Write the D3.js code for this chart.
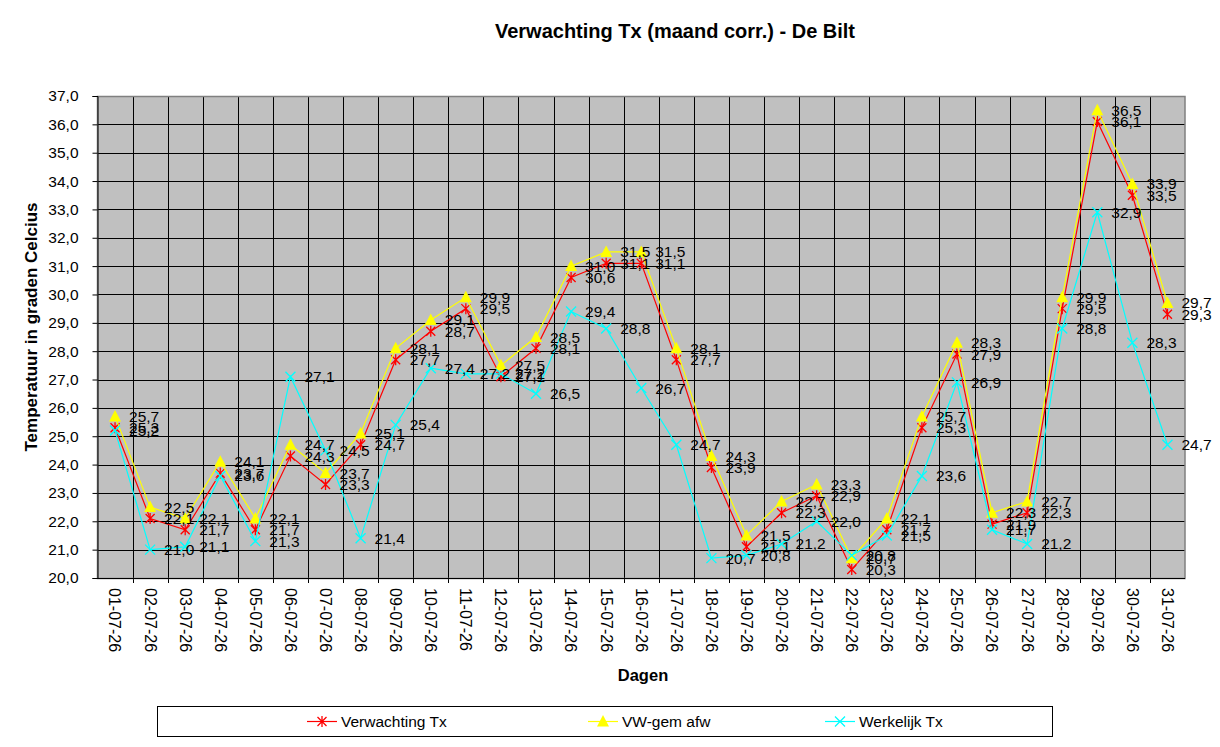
<!DOCTYPE html>
<html>
<head>
<meta charset="utf-8">
<script src="https://cdn.jsdelivr.net/npm/d3@7"></script>
<style>
  html, body { margin: 0; padding: 0; background: #fff; }
  svg { display: block; font-family: Arial, "Liberation Sans", sans-serif; }
</style>
</head>
<body>
<svg id="chart" width="1220" height="747"></svg>
<script>
const categories = ["01-07-26","02-07-26","03-07-26","04-07-26","05-07-26","06-07-26","07-07-26","08-07-26","09-07-26","10-07-26","11-07-26","12-07-26","13-07-26","14-07-26","15-07-26","16-07-26","17-07-26","18-07-26","19-07-26","20-07-26","21-07-26","22-07-26","23-07-26","24-07-26","25-07-26","26-07-26","27-07-26","28-07-26","29-07-26","30-07-26","31-07-26"];
const verwachtingTx = [25.3,22.1,21.7,23.7,21.7,24.3,23.3,24.7,27.7,28.7,29.5,27.1,28.1,30.6,31.1,31.1,27.7,23.9,21.1,22.3,22.9,20.3,21.7,25.3,27.9,21.9,22.3,29.5,36.1,33.5,29.3];
const vwGemAfw = [25.7,22.5,22.1,24.1,22.1,24.7,23.7,25.1,28.1,29.1,29.9,27.5,28.5,31.0,31.5,31.5,28.1,24.3,21.5,22.7,23.3,20.7,22.1,25.7,28.3,22.3,22.7,29.9,36.5,33.9,29.7];
const werkelijkTx = [25.2,21.0,21.1,23.6,21.3,27.1,24.5,21.4,25.4,27.4,27.2,27.2,26.5,29.4,28.8,26.7,24.7,20.7,20.8,21.2,22.0,20.8,21.5,23.6,26.9,21.7,21.2,28.8,32.9,28.3,24.7];
const yTicks = d3.range(20, 37.01, 1);
const seriesNames = ["Verwachting Tx", "VW-gem afw", "Werkelijk Tx"];

const svg = d3.select("#chart");
const pL = 97.5, pR = 1185, pT = 96, pB = 578;
const x = d3.scaleBand().domain(categories).range([pL, pR]).padding(0);
const y = d3.scaleLinear().domain([20, 37]).range([pB, pT]);
const fmt = v => d3.format(".1f")(v).replace(".", ",");
const FONT = "Arial, 'Liberation Sans', sans-serif";

// title
svg.append("text").attr("x", 675).attr("y", 38).attr("text-anchor", "middle")
  .attr("font-size", 20).attr("font-weight", "bold").text("Verwachting Tx (maand corr.) - De Bilt");

// plot background
svg.append("rect").attr("x", pL).attr("y", pT).attr("width", pR - pL).attr("height", pB - pT)
  .attr("fill", "#c0c0c0");

// horizontal gridlines
svg.append("g").selectAll("line").data(yTicks).join("line")
  .attr("x1", pL).attr("x2", pR)
  .attr("y1", d => Math.round(y(d)) + 0.5).attr("y2", d => Math.round(y(d)) + 0.5)
  .attr("stroke", "#000").attr("stroke-width", 1);

// vertical gridlines at category boundaries
const bounds = categories.map(c => x(c)).concat([pR]);
svg.append("g").selectAll("line").data(bounds.slice(1, -1)).join("line")
  .attr("x1", d => Math.round(d) + 0.5).attr("x2", d => Math.round(d) + 0.5)
  .attr("y1", pT).attr("y2", pB + 5)
  .attr("stroke", "#000").attr("stroke-width", 1);

// border
svg.append("rect").attr("x", pL).attr("y", pT + 0.5).attr("width", pR - pL).attr("height", pB - pT)
  .attr("fill", "none").attr("stroke", "#808080").attr("stroke-width", 1.5);

// y axis
const yAxis = d3.axisLeft(y).tickValues(yTicks).tickSize(5).tickPadding(14).tickFormat(fmt);
const gy = svg.append("g").attr("transform", `translate(${pL},0)`).call(yAxis);
gy.select(".domain").attr("stroke", "#000");
gy.selectAll(".tick line").attr("stroke", "#000");
gy.selectAll("text").attr("font-size", 15.5).attr("fill", "#000").attr("font-family", FONT);

// x axis
const xAxis = d3.axisBottom(x).tickSize(0).tickPadding(0);
const gx = svg.append("g").attr("transform", `translate(0,${pB})`).call(xAxis);
gx.select(".domain").attr("stroke", "#000").attr("d", `M${pL},0.5H${pR}`);
gx.selectAll(".tick text")
  .attr("font-size", 16).attr("fill", "#000").attr("font-family", FONT)
  .attr("transform", "rotate(90)")
  .attr("text-anchor", "start").attr("dy", "0.35em").attr("x", 10).attr("y", 0);

// axis titles
svg.append("text").attr("x", 643).attr("y", 681).attr("text-anchor", "middle")
  .attr("font-size", 16.5).attr("font-weight", "bold").text("Dagen");
svg.append("text").attr("transform", "translate(37,327) rotate(-90)").attr("text-anchor", "middle")
  .attr("font-size", 17).attr("font-weight", "bold").text("Temperatuur in graden Celcius");

const cx = c => x(c) + x.bandwidth() / 2;
const series = [
  { name: seriesNames[0], values: verwachtingTx, color: "#ff0000", marker: "star" },
  { name: seriesNames[1], values: vwGemAfw, color: "#ffff00", marker: "triangle" },
  { name: seriesNames[2], values: werkelijkTx, color: "#00ffff", marker: "cross" }
];

function drawMarker(g, type, color) {
  if (type === "triangle") {
    g.append("path").attr("d", "M0,-6.5L6,5L-6,5Z").attr("fill", color);
  } else if (type === "star") {
    g.append("path").attr("d", "M-4.5,-4.5L4.5,4.5M-4.5,4.5L4.5,-4.5M0,-5.5L0,5.5")
      .attr("stroke", color).attr("stroke-width", 1.3).attr("fill", "none");
  } else {
    g.append("path").attr("d", "M-5,-5L5,5M-5,5L5,-5")
      .attr("stroke", color).attr("stroke-width", 1.3).attr("fill", "none");
  }
}

const line = d3.line().x((d, i) => cx(categories[i])).y(d => y(d));
series.forEach(s => {
  svg.append("path").datum(s.values).attr("d", line)
    .attr("fill", "none").attr("stroke", s.color).attr("stroke-width", 1.2);
  s.values.forEach((v, i) => {
    const g = svg.append("g").attr("transform", `translate(${cx(categories[i])},${y(v)})`);
    drawMarker(g, s.marker, s.color);
  });
});

// data labels
series.forEach(s => {
  svg.append("g").selectAll("text").data(s.values).join("text")
    .attr("x", (d, i) => cx(categories[i]) + 14)
    .attr("y", d => y(d) + 5.5)
    .attr("font-size", 15.5).attr("fill", "#000")
    .text(d => fmt(d));
});

// legend
svg.append("rect").attr("x", 157.5).attr("y", 706.5).attr("width", 895).attr("height", 30)
  .attr("fill", "#fff").attr("stroke", "#000").attr("stroke-width", 1);
const legendPos = [307, 588, 825];
series.forEach((s, i) => {
  const lx = legendPos[i];
  svg.append("line").attr("x1", lx).attr("x2", lx + 30).attr("y1", 721.5).attr("y2", 721.5)
    .attr("stroke", s.color).attr("stroke-width", 1.2);
  const g = svg.append("g").attr("transform", `translate(${lx + 15},721.5)`);
  drawMarker(g, s.marker, s.color);
  svg.append("text").attr("x", lx + 34).attr("y", 727).attr("font-size", 15.5).attr("fill", "#000").text(s.name);
});
</script>
</body>
</html>
